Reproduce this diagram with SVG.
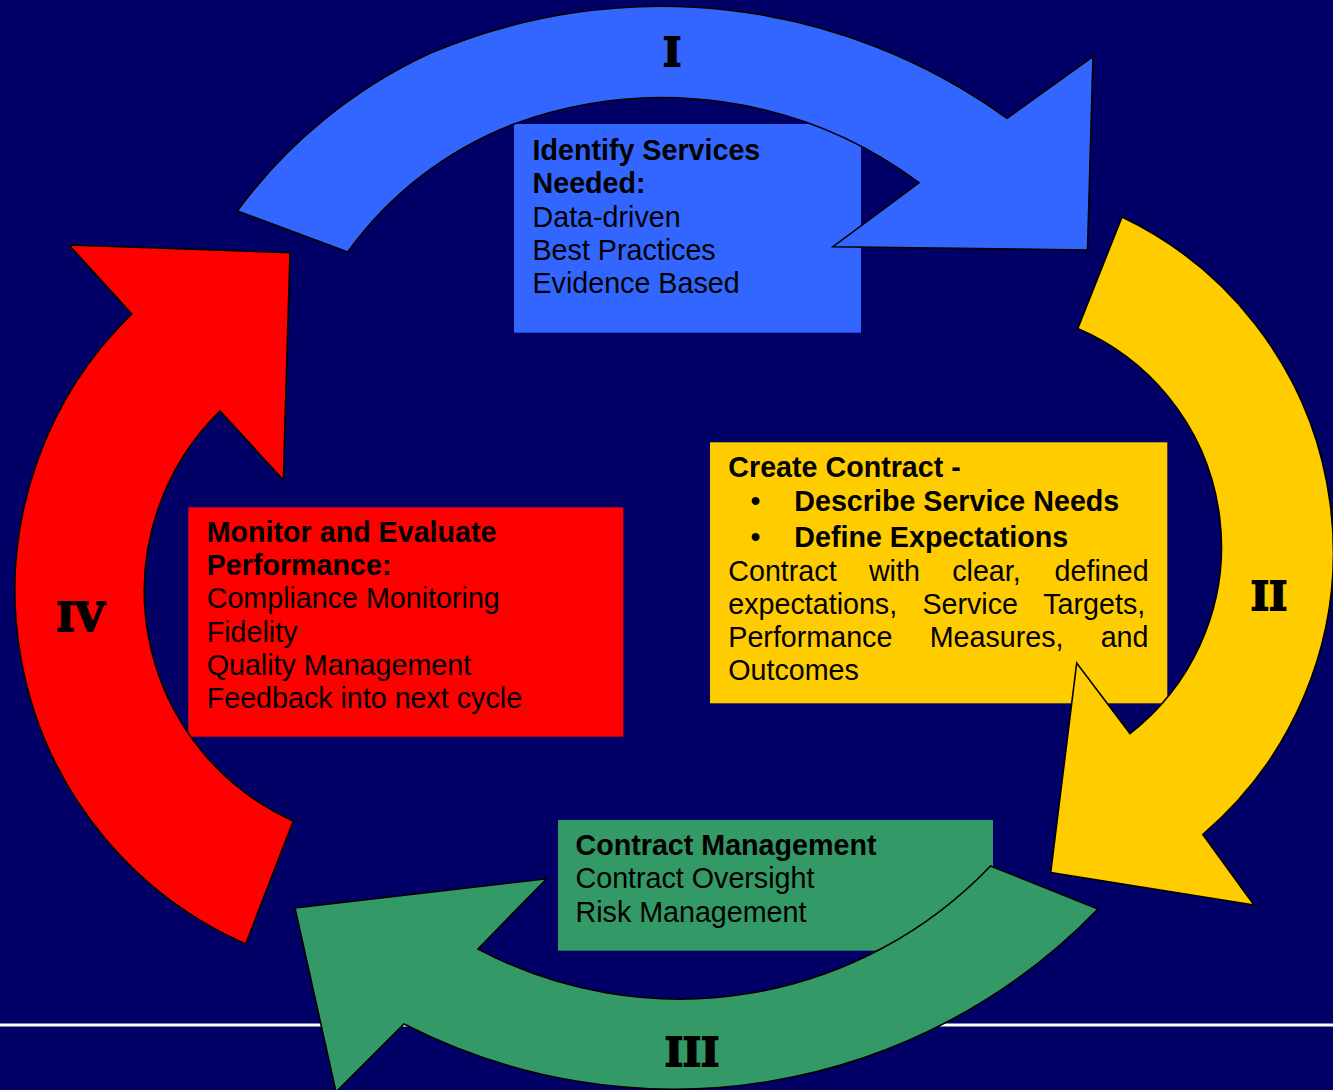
<svg xmlns="http://www.w3.org/2000/svg" width="1333" height="1090" viewBox="0 0 1333 1090">
  <style>
    .t { font-family: "Liberation Sans", Arial, sans-serif; font-size: 28.67px; fill: #000; }
    .b { font-weight: bold; }
    .arrow { stroke: #000; stroke-width: 1.6; stroke-linejoin: miter; }
    .num { font-family: "DejaVu Serif", "Liberation Serif", serif; font-weight: bold; font-size: 39px; fill: #000; stroke: #000; stroke-width: 1.8; stroke-linejoin: miter; text-anchor: middle; }
  </style>

  <!-- backdrop -->
  <rect x="0" y="0" width="1333" height="1090" fill="#000066"/>
  <line x1="0" y1="1025" x2="1333" y2="1025" stroke="#ffffff" stroke-width="3"/>

  <!-- step I: identify services -->
  <g id="node-identify">
    <rect x="514" y="124" width="347" height="208.7" fill="#3366FF"/>
    <text class="t b" x="532.5" y="160">Identify Services</text>
    <text class="t b" x="532.5" y="193.3">Needed:</text>
    <text class="t" x="532.5" y="226.7">Data-driven</text>
    <text class="t" x="532.5" y="260">Best Practices</text>
    <text class="t" x="532.5" y="293.3">Evidence Based</text>
  </g>

  <!-- step II: create contract -->
  <g id="node-create-contract">
    <rect x="710" y="442.3" width="457.3" height="261" fill="#FFCC00"/>
    <text class="t b" x="728.3" y="476.7">Create Contract -</text>
    <text class="t" x="750.5" y="511">•</text>
    <text class="t b" x="794.3" y="511">Describe Service Needs</text>
    <text class="t" x="750.5" y="546.7">•</text>
    <text class="t b" x="794.3" y="546.7">Define Expectations</text>
    <text class="t" y="580.7"><tspan x="728.3">Contract</tspan><tspan x="868.9">with</tspan><tspan x="952.2">clear,</tspan><tspan x="1054.6">defined</tspan></text>
    <text class="t" y="614"><tspan x="728.3">expectations,</tspan><tspan x="922.4">Service</tspan><tspan x="1043.3">Targets,</tspan></text>
    <text class="t" y="647.3"><tspan x="728.3">Performance</tspan><tspan x="929.7">Measures,</tspan><tspan x="1100.7">and</tspan></text>
    <text class="t" x="728.3" y="680">Outcomes</text>
  </g>

  <!-- step III: contract management -->
  <g id="node-contract-management">
    <rect x="558" y="820" width="435" height="130.7" fill="#339966"/>
    <text class="t b" x="575.5" y="855">Contract Management</text>
    <text class="t" x="575.5" y="888.3">Contract Oversight</text>
    <text class="t" x="575.5" y="921.7">Risk Management</text>
  </g>

  <!-- step IV: monitor and evaluate -->
  <g id="node-monitor">
    <rect x="188.3" y="507.3" width="435" height="229.4" fill="#FF0000"/>
    <text class="t b" x="206.7" y="541.7">Monitor and Evaluate</text>
    <text class="t b" x="206.7" y="575">Performance:</text>
    <text class="t" x="206.7" y="608.3">Compliance Monitoring</text>
    <text class="t" x="206.7" y="641.7">Fidelity</text>
    <text class="t" x="206.7" y="675">Quality Management</text>
    <text class="t" x="206.7" y="708.3">Feedback into next cycle</text>
  </g>

  <!-- curved cycle arrows with their step numerals -->
  <g id="connectors">
    <g id="arrow-I">
      <path class="arrow" fill="#3366FF" d="M237.3,211 A500,500 0 0 1 430,53.3 A590,590 0 0 1 1007,118.3 L1093,56.7 L1087.5,250 L833,246.7 L919,182.7 A430,430 0 0 0 514,124 A367,367 0 0 0 347.7,252 Z"/>
      <text class="num" x="672" y="66">I</text>
    </g>
    <g id="arrow-II">
      <path class="arrow" fill="#FFCC00" d="M1122,217 A371,371 0 0 1 1202.7,834.5 L1254,905 L1050.7,872.6 L1076.7,663 L1130,733.5 A237,237 0 0 0 1077.7,328.6 Z"/>
      <text class="num" x="1269" y="610">II</text>
    </g>
    <g id="arrow-III">
      <path class="arrow" fill="#339966" d="M1098,909 A590,590 0 0 1 404,1024 L336,1092 L295,908 L546.6,878.7 L478,949 A430,430 0 0 0 990.5,866 Z"/>
      <text class="num" x="692" y="1066">III</text>
    </g>
    <g id="arrow-IV">
      <path class="arrow" fill="#FF0000" d="M245.7,944 A386,386 0 0 1 131.7,314 L69,245 L290,252.7 L283.3,480 L220,411 A252,252 0 0 0 293.3,821 Z"/>
      <text class="num" x="80.5" y="631">IV</text>
    </g>
  </g>
</svg>
